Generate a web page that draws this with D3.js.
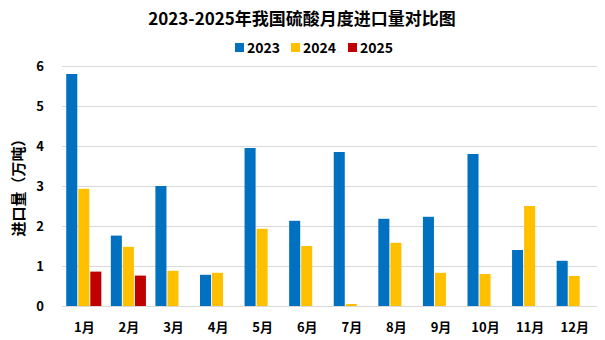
<!DOCTYPE html>
<html><head><meta charset="utf-8">
<script src="https://cdn.jsdelivr.net/npm/d3@7/dist/d3.min.js"></script>
<style>body{margin:0;background:#fff}svg{display:block}</style>
</head><body><svg id="c" width="605" height="340"></svg>
<script>
const months = ["1月","2月","3月","4月","5月","6月","7月","8月","9月","10月","11月","12月"];
const seriesNames = ["2023","2024","2025"];
const colors = ["#0070C0","#FFC000","#C00000"];
const v2023 = [5.8,1.76,3.0,0.78,3.95,2.13,3.85,2.18,2.23,3.8,1.4,1.13];
const v2024 = [2.93,1.48,0.88,0.83,1.93,1.5,0.05,1.58,0.83,0.8,2.5,0.75];
const v2025 = [0.86,0.76,null,null,null,null,null,null,null,null,null,null];
const yTicks = [0,1,2,3,4,5,6];
const title = "2023-2025年我国硫酸月度进口量对比图";
const yTitle = "进口量（万吨）";

const font = "'Noto Sans CJK SC','Microsoft YaHei',sans-serif";
const svg = d3.select("#c");
const pLeft = 62, pRight = 597, pTop = 66, pBottom = 306;
const x0 = d3.scaleBand().domain(months).range([pLeft, pRight]).paddingInner(0.19).paddingOuter(0.095);
const x1 = d3.scaleBand().domain(seriesNames).range([0, x0.bandwidth()]);
const y = d3.scaleLinear().domain([0,6]).range([pBottom, pTop]);

// grid
svg.append("g").selectAll("line").data(yTicks).join("line")
  .attr("x1", pLeft).attr("x2", pRight)
  .attr("y1", d => y(d) + 0.5).attr("y2", d => y(d) + 0.5)
  .attr("stroke", "#d9d9d9").attr("stroke-width", 1);

// y axis labels
const yAxis = d3.axisLeft(y).tickValues(yTicks).tickSize(0).tickPadding(0).tickFormat(d3.format("d"));
const ya = svg.append("g").attr("transform", `translate(46,0)`).call(yAxis);
ya.select(".domain").remove();
ya.selectAll("text").attr("font-family", font).attr("font-weight", "bold").attr("font-size", 13).attr("fill", "#000").attr("text-anchor","middle").attr("dx", -6);

// x axis labels
const xAxis = d3.axisBottom(x0).tickSize(0).tickPadding(17);
const xa = svg.append("g").attr("transform", `translate(0,${pBottom})`).call(xAxis);
xa.select(".domain").remove();
xa.selectAll("text").attr("font-family", font).attr("font-weight", "bold").attr("font-size", 13).attr("fill", "#000");

// bars
const data = [v2023, v2024, v2025];
seriesNames.forEach((s, si) => {
  svg.append("g").selectAll("rect")
    .data(months.map((m, i) => ({m, v: data[si][i]})).filter(d => d.v != null))
    .join("rect")
    .attr("x", d => x0(d.m) + x1(s))
    .attr("width", x1.bandwidth() - 1)
    .attr("y", d => y(d.v))
    .attr("height", d => y(0) - y(d.v))
    .attr("fill", colors[si]);
});

// title
svg.append("text").attr("x", 302).attr("y", 25).attr("text-anchor", "middle")
  .attr("font-family", font).attr("font-weight", "bold").attr("font-size", 17).attr("fill", "#000").text(title);

// legend
const legX = [235, 291, 348];
seriesNames.forEach((s, i) => {
  svg.append("rect").attr("x", legX[i]).attr("y", 43).attr("width", 9).attr("height", 9).attr("fill", colors[i]);
  svg.append("text").attr("x", legX[i] + 12).attr("y", 52.5).attr("font-family", font).attr("font-weight", "bold")
    .attr("font-size", 14).attr("fill", "#000").text(s);
});

// y title
svg.append("text").attr("transform", "translate(24,184) rotate(-90)").attr("text-anchor", "middle")
  .attr("font-family", font).attr("font-weight", "bold").attr("font-size", 15).attr("fill", "#000").text(yTitle);
</script></body></html>
